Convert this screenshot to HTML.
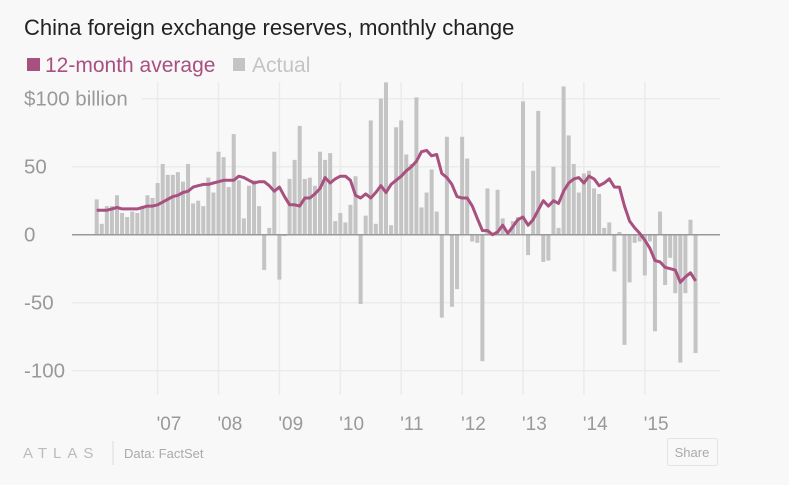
<!DOCTYPE html>
<html><head><meta charset="utf-8"><style>
body{margin:0;background:#f8f8f8;width:789px;height:485px;overflow:hidden;font-family:"Liberation Sans",sans-serif;}
svg{display:block}
</style></head><body>
<svg id="chart" width="789" height="485" xmlns="http://www.w3.org/2000/svg">
<rect width="789" height="485" fill="#f8f8f8"/>
<text x="24" y="35" font-size="22" fill="#222">China foreign exchange reserves, monthly change</text>
<g>
<rect x="27" y="58" width="13" height="13" fill="#a8507f"/>
<text x="45" y="72" font-size="21" fill="#a8507f">12-month average</text>
<rect x="233" y="58" width="12" height="13" fill="#c4c4c4"/>
<text x="252" y="72" font-size="21" fill="#c4c4c4">Actual</text>
</g>
<g id="grid"></g><g id="bars"></g><g id="line"></g><g id="labels"></g>
<g>
<text x="23" y="458" font-size="15" fill="#bbb" letter-spacing="6">ATLAS</text>
<line x1="113" y1="441" x2="113" y2="465" stroke="#ddd"/>
<text x="124" y="458" font-size="13" fill="#aaa">Data: FactSet</text>
<rect x="667.5" y="438.5" width="50" height="27" rx="2" fill="#f8f8f8" stroke="#e4e4e4"/>
<text x="692" y="457" font-size="13" fill="#aaa" text-anchor="middle">Share</text>
</g>
</svg>
<script>
const actual=[26,8,21,21,29,16,13,17,16,21,29,27, 38,52,44,44,46,39,52,23,25,21,42,31, 61,57,35,74,40,12,36,40,21,-26,5,61, -33,-1,41,55,80,41,42,36,61,55,60,10, 16,9,22,43,-51,14,84,8,100,112,7,79, 84,59,52,101,20,31,48,17,-61,72,-53,-40, 72,56,-5,-6,-93,34,0,33,12,0,10,13, 98,-15,47,91,-20,-19,50,5,109,73,52,31, 45,47,34,30,5,9,-27,2,-81,-35,-6,-5, -30,-5,-71,17,-37,-17,-43,-94,-43,11,-87];
const avg12=[18,18,18,19,20,19,19,19,19,20,21,21, 22,24,26,28,29,31,32,35,36,37,37,38, 39,40,40,40,43,42,40,38,39,39,36,32, 35,28,22,22,21,27,27,30,34,42,38,41, 43,43,40,29,27,30,27,31,36,31,37,40, 43,47,50,54,61,62,58,59,45,42,37,28, 27,27,21,12,3,3,0,2,7,1,6,11, 13,7,11,18,25,21,25,23,32,38,41,42, 38,43,41,36,38,41,35,35,21,10,5,1, -4,-10,-19,-20,-24,-25,-26,-35,-31,-28,-34];
const yTicks=[100,50,0,-50,-100];
const yTickLabels=["$100 billion","50","0","-50","-100"];
const years=["'07","'08","'09","'10","'11","'12","'13","'14","'15"];
const NS="http://www.w3.org/2000/svg";
function x(i){return 96.7+i*5.075;}
function y(v){return 234.7-v*1.36;}
function mk(t,a,p){const e=document.createElementNS(NS,t);for(const k in a)e.setAttribute(k,a[k]);p.appendChild(e);return e;}
const grid=document.getElementById('grid'),bars=document.getElementById('bars'),line=document.getElementById('line'),labels=document.getElementById('labels');
years.forEach((yr,k)=>{const gx=x(12*(k+1));
 const l=mk('line',{x1:gx,x2:gx,y1:82,y2:395,stroke:'#ebebeb','stroke-width':1.5},grid);
 
 
 const t=mk('text',{x:gx-1,y:430,'font-size':19,fill:'#999'},labels);t.textContent=yr;
 
 
});
yTicks.forEach((v,k)=>{const gy=y(v);
 const l=mk('line',{x1:v===100?142:72,x2:720,y1:gy,y2:gy,stroke:v===0?'#999':'#ebebeb','stroke-width':1.5},v===0?line:grid);
 
 
 const t=mk('text',{x:24,y:gy+7,'font-size':20.5,fill:'#999'},labels);t.textContent=yTickLabels[k];
 
 
});
actual.forEach((v,i)=>{const y0=y(Math.max(v,0)),h=Math.abs(y(v)-y(0));
 const r=mk('rect',{x:x(i)-2,y:y0,width:4,height:Math.max(h,0.5),fill:'#c4c4c4'},bars);
 
 
});
const p=mk('path',{d:avg12.map((v,i)=>(i?'L':'M')+x(i).toFixed(1)+' '+y(v).toFixed(1)).join(' '),fill:'none',stroke:'#a8507f','stroke-width':3,'stroke-linejoin':'round'},line);


</script>
</body></html>
